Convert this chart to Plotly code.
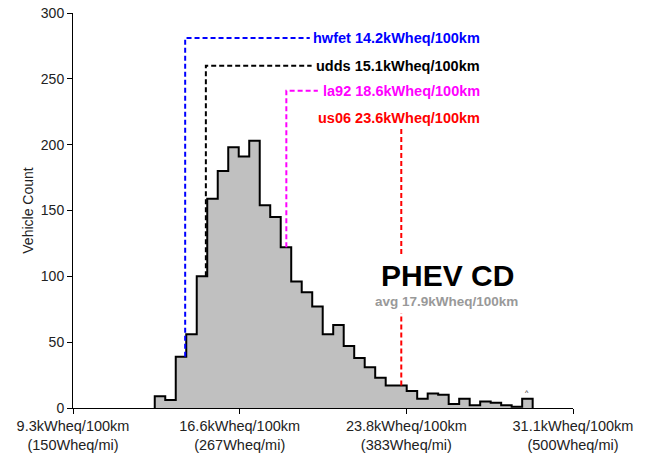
import plotly.graph_objects as go
import math

# ---------------- data ----------------
bin_start = 12.877          # kWheq/100km, left edge of first bin
bin_width = 0.4566          # kWheq/100km
counts = [9, 6, 39, 56, 100, 159, 180, 198, 191, 203, 154, 145, 122, 96, 88, 77,
          56, 63, 47, 38, 31, 23, 17, 17, 13, 7, 11, 10, 3, 7, 2, 5, 4, 2, 1, 7]

cycle_names = ["hwfet", "udds", "la92", "us06"]
cycle_values = [14.2, 15.1, 18.6, 23.6]          # kWheq/100km
cycle_colors = ["#0000FF", "#000000", "#FF00FF", "#FF0000"]
cycle_label_y = [281, 260, 241, 220]             # label heights (counts)
cycle_bracket_end = [19.62, 19.70, 19.97, None]  # end of horizontal bracket

tick_vals = [9.321, 16.571, 23.820, 31.069]
tick_text = ["9.3kWheq/100km<br>(150Wheq/mi)", "16.6kWheq/100km<br>(267Wheq/mi)",
             "23.8kWheq/100km<br>(383Wheq/mi)", "31.1kWheq/100km<br>(500Wheq/mi)"]

avg_text = "avg 17.9kWheq/100km"
title_text = "PHEV CD"

# ---------------- figure ----------------
FONT = "Liberation Sans, Arial, sans-serif"
edges = [bin_start + i * bin_width for i in range(len(counts) + 1)]

xs = [edges[0]] + edges[:-1] + [edges[-1], edges[-1]]
ys = [0] + counts + [counts[-1], 0]

fig = go.Figure()
fig.add_trace(go.Scatter(x=xs, y=ys, mode="lines", line=dict(shape="hv", color="black", width=2),
                         fill="tozeroy", fillcolor="#C0C0C0", hoverinfo="skip", showlegend=False))


def hist_at(v):
    i = int(math.floor((v - bin_start) / bin_width))
    i = max(0, min(len(counts) - 1, i))
    return counts[i]


label_right = 27.11
for name, v, col, ly, bend in zip(cycle_names, cycle_values, cycle_colors, cycle_label_y, cycle_bracket_end):
    h = hist_at(v)
    if bend is not None:
        fig.add_trace(go.Scatter(x=[v, v, bend], y=[h, ly, ly], mode="lines",
                                 line=dict(color=col, width=2, dash="5px,3px"),
                                 hoverinfo="skip", showlegend=False))
    else:
        fig.add_trace(go.Scatter(x=[v, v, None, v, v], y=[h, 72, None, 117, ly - 6], mode="lines",
                                 line=dict(color=col, width=2, dash="5px,3px"),
                                 hoverinfo="skip", showlegend=False))
    fig.add_annotation(x=label_right, y=ly, xref="x", yref="y", xanchor="right", yanchor="middle",
                       text=f"<b>{name} {v}kWheq/100km</b>", showarrow=False,
                       font=dict(family=FONT, size=14.5, color=col))

fig.add_annotation(x=25.62, y=101, xref="x", yref="y", xanchor="center", yanchor="middle",
                   text=f"<b>{title_text}</b>", showarrow=False,
                   font=dict(family=FONT, size=30, color="black"))
fig.add_annotation(x=25.55, y=81, xref="x", yref="y", xanchor="center", yanchor="middle",
                   text=f"<b>{avg_text}</b>", showarrow=False,
                   font=dict(family=FONT, size=13.5, color="#999999"))
fig.add_annotation(x=29.05, y=12, xref="x", yref="y", text="^", showarrow=False,
                   font=dict(family=FONT, size=7, color="black"))

fig.update_layout(
    width=651, height=457,
    margin=dict(l=73, r=78, t=13, b=49, autoexpand=False),
    paper_bgcolor="white", plot_bgcolor="white",
    font=dict(family=FONT, size=14, color="black"),
    showlegend=False,
)
fig.update_xaxes(range=[tick_vals[0], tick_vals[-1]], tickmode="array", tickvals=tick_vals,
                 ticktext=tick_text, ticks="outside", ticklen=5, tickcolor="black",
                 showline=True, linecolor="black", linewidth=1, showgrid=False, zeroline=False,
                 automargin=False, ticklabeloverflow="allow",
                 tickfont=dict(family=FONT, size=14.5, color="#222"))
fig.update_yaxes(range=[0, 300], dtick=50, ticks="outside", ticklen=5, tickcolor="black",
                 showline=True, linecolor="black", linewidth=1, showgrid=False, zeroline=False,
                 automargin=False, ticklabeloverflow="allow",
                 title=dict(text="Vehicle Count", font=dict(family=FONT, size=14, color="#222"), standoff=3),
                 tickfont=dict(family=FONT, size=14, color="#222"))

fig.write_html("out.html",
               config={"displayModeBar": False, "staticPlot": True},
               post_script="document.body.style.margin='0px';document.body.style.overflow='hidden';")
